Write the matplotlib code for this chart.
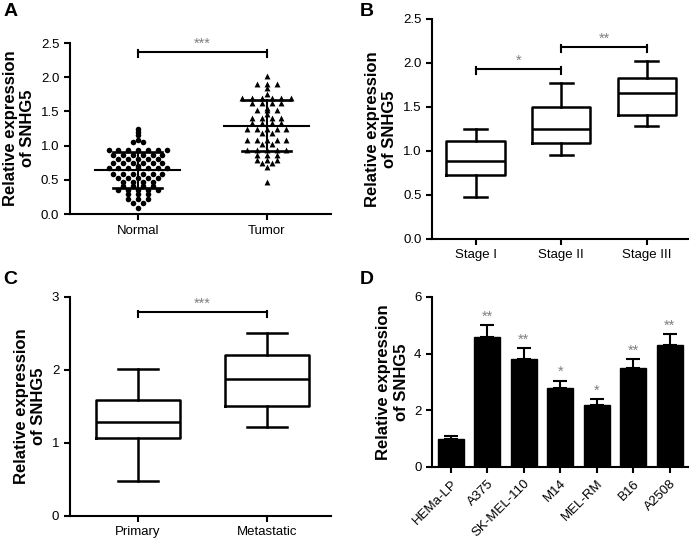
import numpy as np
import matplotlib.pyplot as plt

plt.rcParams['font.family'] = ['Liberation Sans', 'DejaVu Sans']

# panel A: individual samples
normal = [1.25, 1.20, 1.15, 1.09, 1.05, 1.05,
          0.93, 0.93, 0.93, 0.93, 0.93, 0.93, 0.93,
          0.87, 0.87, 0.87, 0.87, 0.87, 0.87,
          0.80, 0.80, 0.80, 0.80, 0.80,
          0.74, 0.74, 0.74, 0.74, 0.74, 0.74, 0.70,
          0.67, 0.67, 0.67, 0.67, 0.67, 0.67, 0.67,
          0.59, 0.59, 0.59, 0.59, 0.59, 0.59,
          0.53, 0.53, 0.53, 0.53, 0.53,
          0.47, 0.47, 0.47, 0.47,
          0.41, 0.41, 0.41, 0.41,
          0.35, 0.35, 0.35, 0.35, 0.35,
          0.29, 0.29, 0.29, 0.22, 0.22, 0.22, 0.16, 0.16, 0.09]
tumor = [2.02, 1.90, 1.90, 1.90, 1.85, 1.76,
         1.69, 1.69, 1.69, 1.69, 1.69, 1.69,
         1.62, 1.62, 1.62, 1.62, 1.55, 1.52, 1.52, 1.52, 1.46,
         1.40, 1.40, 1.40, 1.40, 1.33, 1.33, 1.33, 1.33,
         1.25, 1.25, 1.25, 1.25, 1.25, 1.18, 1.18,
         1.09, 1.09, 1.09, 1.09, 1.09, 1.03, 1.03,
         0.93, 0.93, 0.93, 0.93, 0.93, 0.86, 0.86, 0.86,
         0.79, 0.79, 0.79, 0.74, 0.74, 0.69, 0.47]

# panel B: box stats (whislo, q1, med, q3, whishi)
stages = ['Stage I', 'Stage II', 'Stage III']
stage_stats = [(0.48, 0.72, 0.88, 1.11, 1.25),
               (0.95, 1.09, 1.25, 1.50, 1.77),
               (1.28, 1.41, 1.66, 1.83, 2.02)]

# panel C
groups_c = ['Primary', 'Metastatic']
c_stats = [(0.48, 1.07, 1.29, 1.59, 2.02),
           (1.22, 1.50, 1.88, 2.20, 2.50)]

# panel D
cells = ['HEMa-LP', 'A375', 'SK-MEL-110', 'M14', 'MEL-RM', 'B16', 'A2508']
expr = [1.0, 4.6, 3.8, 2.8, 2.2, 3.5, 4.3]
expr_err = [0.08, 0.42, 0.40, 0.25, 0.20, 0.30, 0.40]
stars_d = ['', '**', '**', '*', '*', '**', '**']

LW = 1.5
star_col = '#808080'


def style_ax(ax):
    for s in ['top', 'right']:
        ax.spines[s].set_visible(False)
    for s in ['left', 'bottom']:
        ax.spines[s].set_linewidth(LW)
    ax.tick_params(width=LW, length=4, labelsize=9.5, direction='out')
    ax.set_ylabel('Relative expression\nof SNHG5', fontsize=12, fontweight='bold')


def bracket(ax, x1, x2, y, h, text):
    ax.plot([x1, x2], [y, y], color='black', lw=LW)
    ax.plot([x1, x1], [y - h, y + h * 0.3], color='black', lw=LW)
    ax.plot([x2, x2], [y - h, y + h * 0.3], color='black', lw=LW)
    ax.text((x1 + x2) / 2, y + h * 0.3, text, ha='center', va='bottom',
            fontsize=10.5, color=star_col)


def spread(vals, step):
    # points with the same value are laid side by side, centred
    vals = np.asarray(vals)
    xs = np.zeros(len(vals))
    for v in np.unique(vals):
        idx = np.where(vals == v)[0]
        n = len(idx)
        xs[idx] = (np.arange(n) - (n - 1) / 2) * step
    return xs


def draw_box(ax, stats, width, capw):
    for i, (lo, q1, med, q3, hi) in enumerate(stats):
        bx = {'whislo': lo, 'q1': q1, 'med': med, 'q3': q3, 'whishi': hi, 'fliers': []}
        ax.bxp([bx], positions=[i], widths=width, showfliers=False, capwidths=capw,
               boxprops=dict(lw=LW + 0.3), whiskerprops=dict(lw=LW + 0.3),
               capprops=dict(lw=LW + 0.3), medianprops=dict(color='black', lw=LW + 0.3))


fig = plt.figure(figsize=(6.9, 5.38), dpi=100)

# ---- A
axA = fig.add_axes([0.101, 0.602, 0.379, 0.318])
for j, (vals, mk) in enumerate([(normal, 'o'), (tumor, '^')]):
    vals = np.array(vals)
    xs = spread(vals, 0.076)
    axA.scatter(j + xs, vals, marker=mk, s=16 if mk == 'o' else 18, color='black',
                linewidths=0, zorder=3)
    m, sd = vals.mean(), vals.std(ddof=1)
    axA.plot([j - 0.33, j + 0.33], [m, m], color='black', lw=LW, zorder=4)
    axA.plot([j, j], [m - sd, m + sd], color='black', lw=LW, zorder=4)
    for v in (m - sd, m + sd):
        axA.plot([j - 0.19, j + 0.19], [v, v], color='black', lw=LW + 0.4, zorder=4)
bracket(axA, 0, 1, 2.37, 0.07, '***')
axA.set_xlim(-0.53, 1.5)
axA.set_ylim(0, 2.5)
axA.set_yticks(np.arange(0, 2.51, 0.5))
axA.set_yticklabels(['0.0', '0.5', '1.0', '1.5', '2.0', '2.5'])
axA.set_xticks([0, 1])
axA.set_xticklabels(['Normal', 'Tumor'])
style_ax(axA)

# ---- B
axB = fig.add_axes([0.626, 0.556, 0.371, 0.409])
draw_box(axB, stage_stats, 0.68, 0.27)
bracket(axB, 0, 1, 1.93, 0.06, '*')
bracket(axB, 1, 2, 2.18, 0.06, '**')
axB.set_xlim(-0.51, 2.48)
axB.set_ylim(0, 2.5)
axB.set_yticks(np.arange(0, 2.51, 0.5))
axB.set_yticklabels(['0.0', '0.5', '1.0', '1.5', '2.0', '2.5'])
axB.set_xticks(range(3))
axB.set_xticklabels(stages)
style_ax(axB)

# ---- C
axC = fig.add_axes([0.101, 0.041, 0.379, 0.407])
draw_box(axC, c_stats, 0.65, 0.31)
bracket(axC, 0, 1, 2.79, 0.07, '***')
axC.set_xlim(-0.53, 1.5)
axC.set_ylim(0, 3)
axC.set_yticks([0, 1, 2, 3])
axC.set_xticks([0, 1])
axC.set_xticklabels(groups_c)
style_ax(axC)

# ---- D
axD = fig.add_axes([0.626, 0.132, 0.371, 0.316])
x = np.arange(len(cells))
axD.bar(x, expr, width=0.72, color='black', edgecolor='black',
        yerr=[np.zeros(len(expr)), expr_err],
        error_kw=dict(ecolor='black', elinewidth=LW, capsize=5, capthick=LW))
for xi, v, e, s in zip(x, expr, expr_err, stars_d):
    if s:
        axD.text(xi, v + e + 0.05, s, ha='center', va='bottom', fontsize=10.5, color=star_col)
axD.set_xlim(-0.52, 6.5)
axD.set_ylim(0, 6)
axD.set_yticks([0, 2, 4, 6])
axD.set_xticks(x)
axD.set_xticklabels(cells, rotation=45, ha='right', rotation_mode='anchor')
style_ax(axD)

for lbl, (px, py) in zip('ABCD', [(0.005, 0.995), (0.522, 0.995), (0.005, 0.497), (0.522, 0.497)]):
    fig.text(px, py, lbl, fontsize=14, fontweight='bold', va='top', ha='left')

fig.savefig('out.png', dpi=100)
